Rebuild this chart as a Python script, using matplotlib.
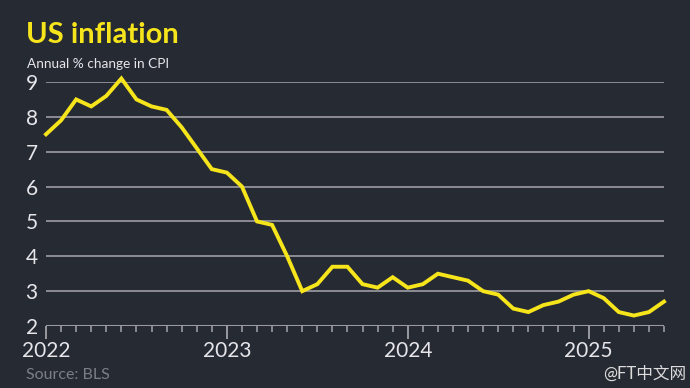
import matplotlib
matplotlib.use("Agg")
import matplotlib.pyplot as plt
import numpy as np

# US CPI, annual % change, monthly Jan 2022 - Jun 2025
cpi_2022 = [7.5, 7.9, 8.5, 8.3, 8.6, 9.1, 8.5, 8.3, 8.2, 7.7, 7.1, 6.5]
cpi_2023 = [6.4, 6.0, 5.0, 4.9, 4.0, 3.0, 3.2, 3.7, 3.7, 3.2, 3.1, 3.4]
cpi_2024 = [3.1, 3.2, 3.5, 3.4, 3.3, 3.0, 2.9, 2.5, 2.4, 2.6, 2.7, 2.9]
cpi_2025 = [3.0, 2.8, 2.4, 2.3, 2.4, 2.7]
cpi = cpi_2022 + cpi_2023 + cpi_2024 + cpi_2025
years = [2022, 2023, 2024, 2025]
y_ticks = [2, 3, 4, 5, 6, 7, 8, 9]

bg = "#262a33"
grid_col = "#8c8c92"
yellow = "#f7e51c"
txt = "#e6e6ea"
plt.rcParams['font.family'] = ['Lato', 'Noto Sans CJK SC', 'DejaVu Sans']

fig = plt.figure(figsize=(6.9, 3.88), dpi=100, facecolor=bg)
ax = fig.add_axes([46/690, 1 - 326/388, (664 - 46)/690, (326 - 82)/388])
ax.set_facecolor(bg)

months = np.arange(len(cpi)) / 12 + 2022
ax.plot(months, cpi, color=yellow, lw=2.8, solid_joinstyle="miter", clip_on=False, zorder=3)

ax.set_xlim(2022, 2022 + 41/12)
ax.set_ylim(2, 9)

for y in y_ticks[1:]:
    ax.axhline(y, color=grid_col, lw=1.4, zorder=1)
ax.axhline(2, color="#9a9aa0", lw=2.2, zorder=2)

for s in ax.spines.values():
    s.set_visible(False)

ax.set_yticks(y_ticks)
ax.set_yticklabels([str(v) for v in y_ticks])
ax.tick_params(axis="y", length=0, pad=6, labelsize=15, labelcolor=txt)

ax.set_xticks(years)
ax.set_xticklabels([str(v) for v in years])
ax.set_xticks(np.arange(42) / 12 + 2022, minor=True)
ax.tick_params(axis="x", which="major", length=9, width=1.4, color="#9a9aa0",
               labelsize=15, labelcolor=txt, pad=2)
ax.tick_params(axis="x", which="minor", length=4, width=1.2, color="#9a9aa0")

fig.text(26/690, 1 - 35/388, "US inflation", color=yellow, fontsize=21,
         fontweight="bold", va="center", ha="left")
fig.text(27/690, 1 - 64/388, "Annual % change in CPI", color=txt, fontsize=9.8,
         va="center", ha="left")
fig.text(26/690, 1 - 375/388, "Source: BLS", color="#7d7f86", fontsize=11.5,
         va="center", ha="left")
fig.text(686/690, 1 - 374/388, "@FT中文网", color="#dcdcdc", fontsize=12,
         va="center", ha="right")

fig.savefig("out.png", dpi=100, facecolor=bg)
